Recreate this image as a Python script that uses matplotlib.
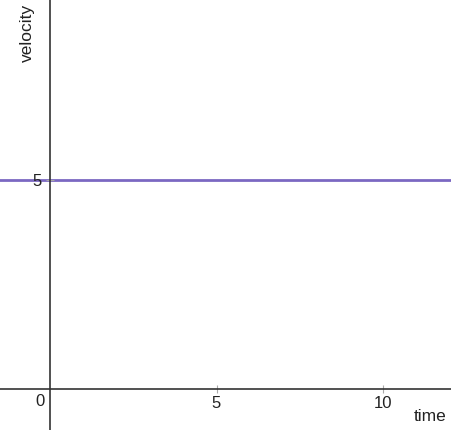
import matplotlib.pyplot as plt

plt.rcParams['font.family'] = ['Liberation Sans', 'DejaVu Sans']

velocity = 5
x_ticks = [5, 10]
y_ticks = [5]
x_label = "time"
y_label = "velocity"

fig = plt.figure(figsize=(4.51, 4.30), dpi=100)
ax = fig.add_axes([0, 0, 1, 1])
ax.set_xlim(-1.5, 12.04)
ax.set_ylim(-0.98, 9.31)

ax.axhline(velocity, color='#7b68c2', lw=2, zorder=1)

for s in ['top', 'right']:
    ax.spines[s].set_visible(False)
for s in ['left', 'bottom']:
    ax.spines[s].set_position(('data', 0))
    ax.spines[s].set_color('#333333')
    ax.spines[s].set_linewidth(1.2)
ax.spines['left'].set_bounds(-0.98, 9.31)

ax.set_xticks(x_ticks)
ax.set_yticks(y_ticks)
ax.tick_params(axis='both', direction='inout', length=6, width=0.8, color='#aaaaaa',
               labelsize=12, labelcolor='#222222')
ax.tick_params(axis='x', pad=2)
ax.tick_params(axis='y', pad=3)
ax.text(-0.15, -0.13, "0", ha='right', va='top', fontsize=12, color='#222222')

ax.text(11.9, -0.66, x_label, ha='right', va='center', fontsize=12.5, color='#222222')
ax.text(-0.68, 8.52, y_label, ha='center', va='center', rotation=90, fontsize=12.5, color='#222222')

fig.savefig('out.png', dpi=100)
